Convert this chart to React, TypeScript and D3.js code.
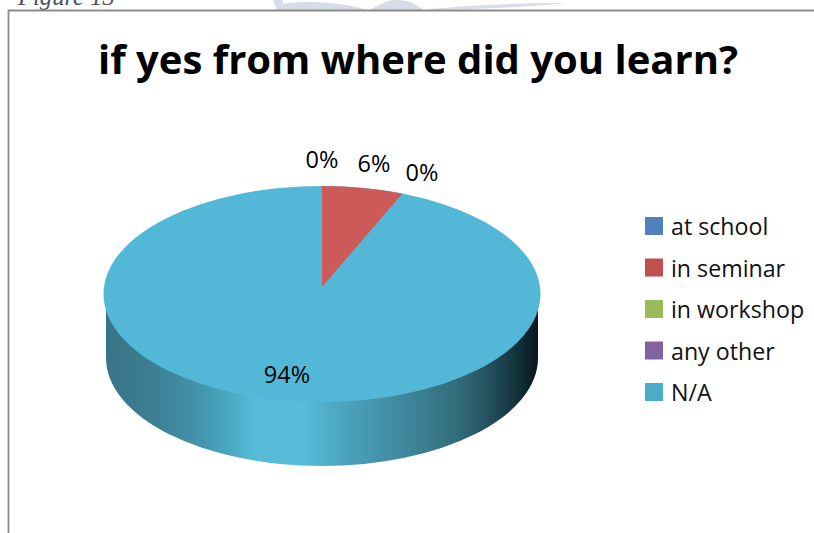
import React from "react";
import * as d3 from "d3";

const categories = ["at school", "in seminar", "in workshop", "any other", "N/A"];
const shares = [0, 6, 0, 0, 94];
const palette = ["#4f81bd", "#c0504d", "#9bbb59", "#8064a2", "#4bacc6"];
const sliceColors = ["#4f81bd", "#cd5a58", "#9bbb59", "#8064a2", "#53b8d8"];
const valueLabels: { index: number; x: number; y: number }[] = [
  { index: 0, x: 322, y: 168 },
  { index: 1, x: 374, y: 172 },
  { index: 2, x: 422, y: 181 },
  { index: 4, x: 287, y: 383 },
];
const wallStops: [number, string][] = [
  [0, "#387486"], [0.1, "#3c7d91"], [0.2, "#4290a8"], [0.28, "#4aa6c0"], [0.34, "#55bbd8"],
  [0.46, "#56bcd9"], [0.55, "#4ba3bd"], [0.68, "#418a9f"], [0.8, "#33707f"],
  [0.88, "#265362"], [0.95, "#14323c"], [1, "#08171c"],
];

const W = 814, H = 533;
const cx = 322, cy = 294, rx = 218.5, ry = 108;
const wallRx = 216, wallBottomCy = 358, wallTop = 298;
const apexY = 287;

export default function App() {
  const arcs = d3.pie<number>().value((d) => d).sort(null)(shares);
  const onRim = (angle: number) => [cx + rx * Math.sin(angle), cy - ry * Math.cos(angle)];
  const wallPath = `M${cx - wallRx},${wallTop} V${wallBottomCy} A${wallRx},${ry} 0 0 0 ${cx + wallRx},${wallBottomCy} V${wallTop} Z`;
  const legendY = d3.scalePoint<string>().domain(categories).range([226, 392]);
  const dominant = arcs.reduce((a, b) => (b.value > a.value ? b : a));

  return (
    <svg width={W} height={H} viewBox={`0 0 ${W} ${H}`}
      style={{ position: "fixed", left: 0, top: 0, background: "#fff", display: "block" }}>
      <defs>
        <linearGradient id="wall" x1="0" x2="1" y1="0" y2="0">
          {wallStops.map(([o, c]) => <stop key={o} offset={o} stopColor={c} />)}
        </linearGradient>
      </defs>

      {/* page furniture above the chart frame */}
      <g fill="#d8dce8">
        <path d="M273,0 H283 V4 C305,0 340,2 368,10 H277 Z" />
        <path d="M370,10 C380,4 388,0 396,0 C408,0 416,4 423,10 Z" />
        <path d="M430,9 C470,5 520,3 566,3 C530,7 480,9 430,10 Z" />
      </g>
      <text x={18} y={5} fontFamily="Liberation Serif" fontStyle="italic" fontSize={24.6} fill="#4a5166">Figure 13</text>

      <path d="M8.5,533 V10.5 H814" fill="none" stroke="#8c8c8c" strokeWidth={1.8} />

      <text x={418} y={74} textAnchor="middle" fontFamily="Open Sans" fontWeight={700} fontSize={40} fill="#000">
        if yes from where did you learn?
      </text>

      <path d={wallPath} fill="url(#wall)" />
      <ellipse cx={cx} cy={cy} rx={rx} ry={ry} fill={sliceColors[dominant.index]} />
      {arcs.map((a, i) => {
        if (a.value <= 0 || a === dominant) return null;
        const [x0, y0] = onRim(a.startAngle);
        const [x1, y1] = onRim(a.endAngle);
        return <path key={i} d={`M${cx},${apexY} L${x0},${y0} A${rx},${ry} 0 0 1 ${x1},${y1} Z`} fill={sliceColors[i]} />;
      })}

      {valueLabels.map(({ index, x, y }) => (
        <text key={index} x={x} y={y} textAnchor="middle" fontFamily="Open Sans" fontSize={23.5} fill="#000">
          {shares[index]}%
        </text>
      ))}

      {categories.map((c, i) => (
        <g key={c}>
          <rect x={645} y={(legendY(c) ?? 0) - 9} width={18} height={18} fill={palette[i]} />
          <text x={671} y={(legendY(c) ?? 0) + 9} fontFamily="Open Sans" fontSize={23.2} fill="#111">{c}</text>
        </g>
      ))}
    </svg>
  );
}
